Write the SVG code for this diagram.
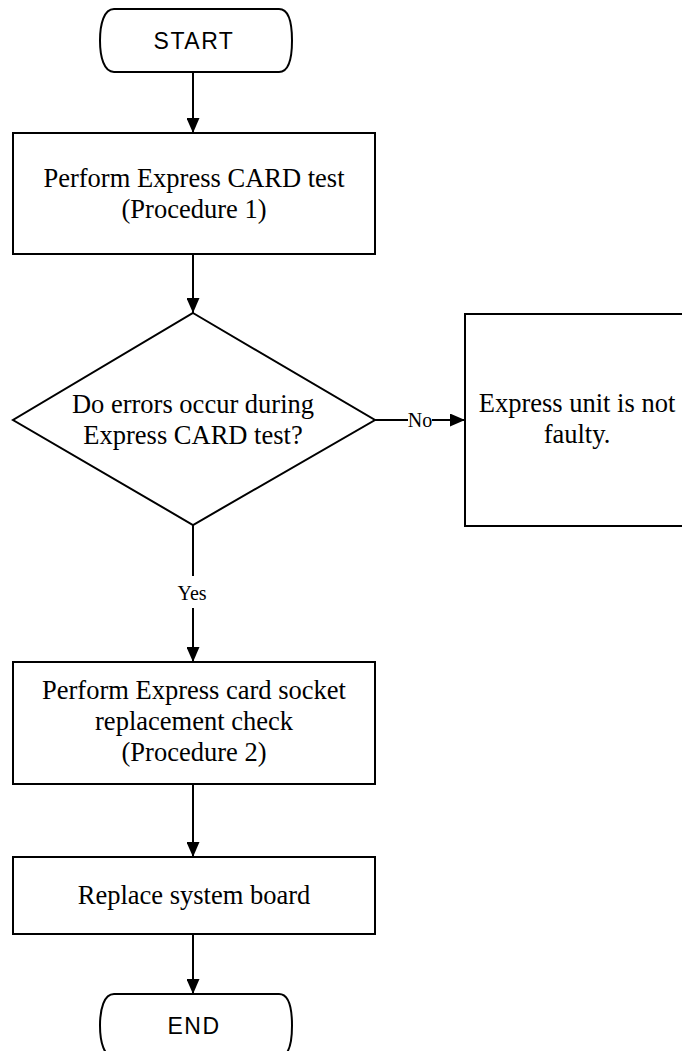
<svg xmlns="http://www.w3.org/2000/svg" width="682" height="1051" viewBox="0 0 682 1051">
  <style>
    .shape { fill: #ffffff; stroke: #000000; stroke-width: 2; }
    .conn { fill: none; stroke: #000000; stroke-width: 2; }
    .txt { font-family: "Liberation Serif", "Times New Roman", serif; font-size: 26.5px; fill: #000000; text-anchor: middle; }
    .term { font-family: "Liberation Sans", Arial, sans-serif; font-size: 23px; letter-spacing: 1.5px; fill: #000000; text-anchor: middle; }
    .lbl { font-family: "Liberation Serif", "Times New Roman", serif; font-size: 20px; fill: #000000; text-anchor: middle; }
  </style>
  <defs>
    <marker id="arrow" markerUnits="userSpaceOnUse" markerWidth="15" markerHeight="13" refX="15" refY="6.5" orient="auto">
      <path d="M0,0 L15,6.5 L0,13 Z" fill="#000000"/>
    </marker>
  </defs>
  <rect width="682" height="1051" fill="#ffffff"/>

  <g id="connectors">
    <path class="conn" d="M193,72 V133" marker-end="url(#arrow)"/>
    <path class="conn" d="M193,254 V313" marker-end="url(#arrow)"/>
    <path class="conn" d="M375,420 H465" marker-end="url(#arrow)"/>
    <path class="conn" d="M193,525 V662" marker-end="url(#arrow)"/>
    <path class="conn" d="M193,784 V857" marker-end="url(#arrow)"/>
    <path class="conn" d="M193,934 V994" marker-end="url(#arrow)"/>
    <g id="label-no">
      <rect x="408" y="409" width="24" height="22" fill="#ffffff"/>
      <text class="lbl" x="420" y="427">No</text>
    </g>
    <g id="label-yes">
      <rect x="176" y="576" width="34" height="32" fill="#ffffff"/>
      <text class="lbl" x="192" y="600">Yes</text>
    </g>
  </g>

  <g id="start">
    <path class="shape" d="M114,9 H279 C289,9 292,24 292,40.5 C292,57 289,72 279,72 H114 C104,72 100,57 100,40.5 C100,24 104,9 114,9 Z"/>
    <text class="term" x="194" y="48.5">START</text>
  </g>

  <g id="step1">
    <rect class="shape" x="13" y="133" width="362" height="121"/>
    <text class="txt" x="194" y="187">Perform Express CARD test</text>
    <text class="txt" x="194" y="218">(Procedure 1)</text>
  </g>

  <g id="decision">
    <polygon class="shape" points="193,313 375,420 193,525 13,420"/>
    <text class="txt" x="193" y="413">Do errors occur during</text>
    <text class="txt" x="193" y="444">Express CARD test?</text>
  </g>

  <g id="notfaulty">
    <rect class="shape" x="465" y="314" width="224" height="212"/>
    <text class="txt" x="577" y="412">Express unit is not</text>
    <text class="txt" x="577" y="443">faulty.</text>
  </g>

  <g id="step2">
    <rect class="shape" x="13" y="662" width="362" height="122"/>
    <text class="txt" x="194" y="699">Perform Express card socket</text>
    <text class="txt" x="194" y="730">replacement check</text>
    <text class="txt" x="194" y="761">(Procedure 2)</text>
  </g>

  <g id="step3">
    <rect class="shape" x="13" y="857" width="362" height="77"/>
    <text class="txt" x="194" y="904">Replace system board</text>
  </g>

  <g id="end">
    <path class="shape" d="M114,994 H279 C289,994 292,1009 292,1025.5 C292,1042 289,1057 279,1057 H114 C104,1057 100,1042 100,1025.5 C100,1009 104,994 114,994 Z"/>
    <text class="term" x="194" y="1033.5">END</text>
  </g>
</svg>
